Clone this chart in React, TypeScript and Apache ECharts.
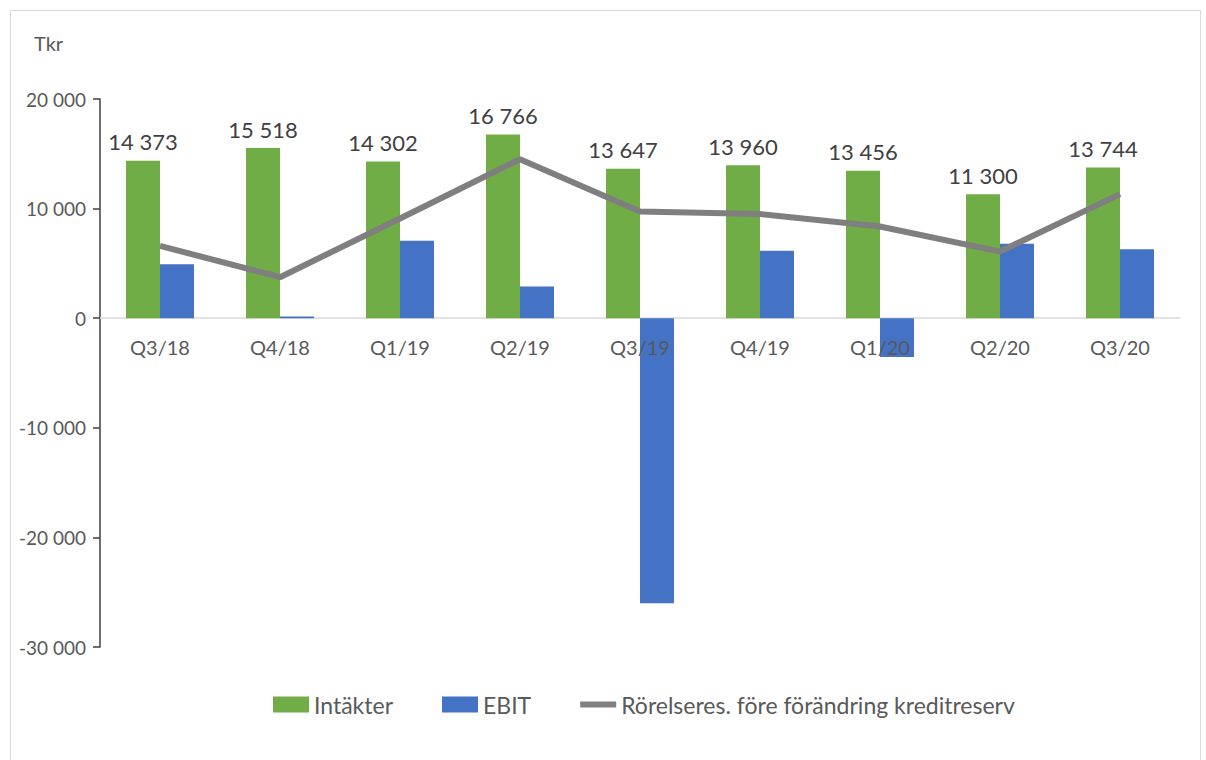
import React, { useEffect, useRef } from "react";
import * as echarts from "echarts";

const categories = ["Q3/18", "Q4/18", "Q1/19", "Q2/19", "Q3/19", "Q4/19", "Q1/20", "Q2/20", "Q3/20"];
const intakter = [14373, 15518, 14302, 16766, 13647, 13960, 13456, 11300, 13744];
const ebit = [4930, 150, 7060, 2890, -26000, 6150, -3550, 6790, 6300];
const rorelseres = [6600, 3740, 9100, 14500, 9740, 9500, 8370, 6080, 11320];

const FONT = "Lato, 'Noto Sans', sans-serif";
const fmt = (v: number) => {
  const s = Math.abs(Math.round(v)).toString().replace(/\B(?=(\d{3})+(?!\d))/g, " ");
  return (v < 0 ? "-" : "") + s;
};

const GRID_TOP = 99;
const GRID_BOTTOM = 113;
const Y_MIN = -30000;
const Y_MAX = 20000;

export default function App() {
  const ref = useRef<HTMLDivElement>(null);
  useEffect(() => {
    if (!ref.current) return;
    const chart = echarts.init(ref.current, null, { renderer: "svg" });
    const plotH = 760 - GRID_TOP - GRID_BOTTOM;
    const zeroOffset = -(plotH * (0 - Y_MIN)) / (Y_MAX - Y_MIN);
    chart.setOption({
      animation: false,
      backgroundColor: "#ffffff",
      textStyle: { fontFamily: FONT },
      graphic: [
        {
          type: "rect",
          shape: { x: 10.5, y: 10.5, width: 1190, height: 780 },
          style: { fill: "none", stroke: "#d9d9d9", lineWidth: 1 },
          silent: true,
        },
        {
          type: "text",
          left: 34,
          top: 33,
          style: { text: "Tkr", font: `20px ${FONT}`, fill: "#595959" },
        },
      ],
      grid: { left: 100, right: 26, top: GRID_TOP, bottom: GRID_BOTTOM, containLabel: false },
      legend: {
        top: 688,
        left: 268,
        itemGap: 49,
        itemWidth: 36,
        itemHeight: 16,
        textStyle: { fontFamily: FONT, fontSize: 23, color: "#595959" },
        data: [
          { name: "Intäkter", icon: "rect" },
          { name: "EBIT", icon: "rect" },
          { name: "Rörelseres. före förändring kreditreserv", icon: "path://M0,0H36V6H0Z" },
        ],
      },
      xAxis: [
        {
          type: "category",
          data: categories,
          offset: zeroOffset,
          z: 0,
          axisLine: { onZero: false, lineStyle: { color: "#d9d9d9", width: 1.5 } },
          axisTick: { show: false },
          axisLabel: { show: false },
        },
        {
          type: "category",
          data: categories,
          position: "bottom",
          offset: zeroOffset,
          z: 6,
          axisLine: { show: false, onZero: false },
          axisTick: { show: false },
          axisLabel: { fontFamily: FONT, fontSize: 20, color: "#595959", margin: 19 },
        },
      ],
      yAxis: {
        type: "value",
        min: Y_MIN,
        max: Y_MAX,
        interval: 10000,
        splitLine: { show: false },
        axisLine: { show: true, lineStyle: { color: "#404040", width: 1.5 } },
        axisTick: { show: true, length: 7, lineStyle: { color: "#404040", width: 1.5 } },
        axisLabel: {
          fontFamily: FONT,
          fontSize: 19,
          color: "#595959",
          margin: 14,
          formatter: (v: number) => fmt(v),
        },
      },
      series: [
        {
          name: "Intäkter",
          type: "bar",
          xAxisIndex: 0,
          data: intakter,
          barWidth: 34,
          barGap: "0%",
          itemStyle: { color: "#70ad47" },
          label: {
            show: true,
            position: "top",
            distance: 8,
            fontFamily: FONT,
            fontSize: 22,
            color: "#404040",
            formatter: (p: any) => fmt(p.value),
          },
        },
        {
          name: "EBIT",
          type: "bar",
          xAxisIndex: 0,
          data: ebit,
          barWidth: 34,
          barGap: "0%",
          itemStyle: { color: "#4472c4" },
        },
        {
          name: "Rörelseres. före förändring kreditreserv",
          type: "line",
          xAxisIndex: 0,
          data: rorelseres,
          symbol: "none",
          showSymbol: false,
          z: 5,
          lineStyle: { color: "#7f7f7f", width: 6 },
          itemStyle: { color: "#7f7f7f" },
        },
      ],
    });
    return () => chart.dispose();
  }, []);
  return (
    <div
      ref={ref}
      style={{ position: "fixed", left: 0, top: 0, width: 1206, height: 760 }}
    />
  );
}
